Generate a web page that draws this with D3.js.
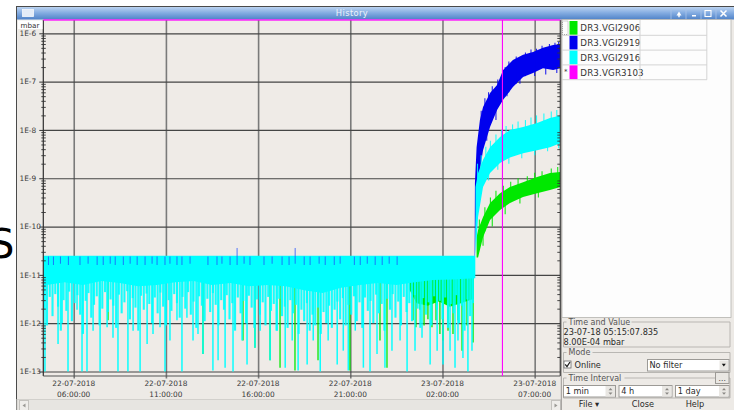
<!DOCTYPE html>
<html><head><meta charset="utf-8">
<script src="https://cdn.jsdelivr.net/npm/d3@7"></script>
<style>
body{margin:0;background:#fff;overflow:hidden}
svg{display:block}
text{font-family:"DejaVu Sans",sans-serif}
</style>
</head><body>
<svg id="c" width="734" height="410"></svg>
<script>
// ================= DATA =================
const seriesNames = ["DR3.VGI2906", "DR3.VGI2919", "DR3.VGI2916", "DR3.VGR3103"];
const yTickValues = [1e-6, 1e-7, 1e-8, 1e-9, 1e-10, 1e-11, 1e-12, 1e-13];
const yTickLabels = ["1E-6", "1E-7", "1E-8", "1E-9", "1E-10", "1E-11", "1E-12", "1E-13"];
// hours counted from 22-07-2018 00:00:00
const timeDomainHours = [4.35, 32.39];
const xTickHours = [6, 11, 16, 21, 26, 31];
const xTickDates = ["22-07-2018", "22-07-2018", "22-07-2018", "22-07-2018", "23-07-2018", "23-07-2018"];
const xTickTimes = ["06:00:00", "11:00:00", "16:00:00", "21:00:00", "02:00:00", "07:00:00"];
const cursorHour = 29.252;          // 23-07-18 05:15:07.835
const cursorValue = 8.00e-4;        // DR3.VGR3103 (off scale, above top)
const baselineTop = 2.45e-11;

// DR3.VGI2916 (cyan) - dense part of the noise before the rise: [hour, low, high]
const cyanDense = [
  [4.35, 6.0e-12, 2.5e-11], [5.5, 7.0e-12, 2.5e-11], [6.5, 6.2e-12, 2.5e-11], [7.5, 7.5e-12, 2.5e-11],
  [8.5, 6.8e-12, 2.5e-11], [9.5, 5.8e-12, 2.5e-11], [10.5, 6.2e-12, 2.5e-11], [11.5, 7.0e-12, 2.5e-11],
  [12.5, 7.5e-12, 2.5e-11], [13.5, 6.2e-12, 2.5e-11], [14.5, 6.8e-12, 2.5e-11], [15.5, 5.8e-12, 2.5e-11],
  [16.5, 6.2e-12, 2.5e-11], [17.5, 5.8e-12, 2.5e-11], [18.5, 4.8e-12, 2.5e-11], [19.5, 4.2e-12, 2.5e-11],
  [20.5, 5.4e-12, 2.5e-11], [21.5, 6.2e-12, 2.5e-11], [22.5, 6.8e-12, 2.5e-11], [23.5, 6.2e-12, 2.5e-11],
  [24.5, 7.0e-12, 2.5e-11], [25.5, 7.8e-12, 2.5e-11], [26.5, 8.0e-12, 2.5e-11], [27.78, 8.5e-12, 2.5e-11]
];
// cyan: lowest value reached in each 0.15 h column, starting at 4.40 h (x 1e-12 mbar)
const cyanColumnStart = 4.40, cyanColumnStep = 0.15;
const cyanColumnMin = [
  2.0, 0.9, 3.5, 1.4, 4.0, 2.2, 0.7, 3.0, 1.8, 4.5, 1.1, 2.6, 3.8, 1.5, 0.6, 2.9, 4.2, 1.3, 2.4, 3.6,
  0.9, 2.0, 4.4, 1.7, 3.1, 2.3, 0.8, 3.9, 1.6, 2.7, 4.6, 1.2, 3.3, 2.1, 0.7, 3.7, 1.9, 4.1, 2.5, 1.0,
  3.4, 1.6, 4.3, 2.2, 0.9, 3.0, 1.8, 4.0, 2.6, 1.3, 3.5, 2.0, 4.4, 1.5, 2.8, 0.8, 3.6, 2.3, 1.1, 3.2,
  1.7, 4.2, 2.4, 0.9, 3.0, 1.9, 3.8, 1.2, 2.6, 0.7, 3.4, 1.6, 2.9, 1.0, 3.7, 2.1, 0.8, 3.1, 1.5, 2.7,
  0.9, 3.5, 1.8, 2.5, 0.7, 3.2, 1.4, 2.2, 0.8, 3.0, 1.6, 2.4, 0.6, 1.9, 1.1, 2.6, 0.7, 1.5, 0.9, 2.1,
  0.6, 1.7, 1.0, 2.3, 0.8, 1.9, 2.8, 1.2, 3.3, 0.9, 2.4, 1.5, 3.6, 1.1, 2.7, 0.8, 3.4, 1.8, 2.9, 1.0,
  3.9, 1.6, 2.5, 0.7, 3.2, 1.9, 4.0, 1.3, 2.8, 0.9, 3.5, 1.7, 2.6, 1.1, 3.8, 2.0, 0.8, 3.3, 1.5, 2.7,
  0.9, 3.6, 1.9, 2.9, 1.2, 3.4, 0.8, 2.5, 1.6, 3.8, 1.0, 2.3, 0.7, 3.1, 1.4, 2.6
];
// cyan deep downward spikes before the rise: [hour, minimum]
const cyanSpikes = [
  [4.44, 1e-13], [5.15, 3.7e-13], [5.37, 1e-12], [5.69, 1e-13], [6.18, 1.9e-12],
  [6.45, 1e-13], [6.72, 1e-13], [7.05, 7e-13], [7.43, 1e-13], [7.81, 8.2e-13], [8.13, 5e-13], [8.40, 1e-13],
  [8.94, 1e-13], [9.22, 7e-13], [9.60, 1e-13], [9.98, 3.7e-13], [10.30, 6e-13], [10.68, 8.2e-13],
  [10.95, 1e-13], [11.22, 4.4e-13], [11.60, 1.15e-12], [11.87, 1e-13], [12.14, 1.3e-12], [12.47, 4.4e-13],
  [12.74, 6e-13], [13.01, 2.3e-13], [13.55, 1.05e-13], [13.83, 1.7e-13], [14.21, 1.2e-13], [14.64, 1e-13],
  [15.13, 4.4e-13], [15.40, 1.4e-13], [15.83, 3.1e-13], [16.11, 7e-13], [16.65, 1.7e-13], [17.03, 7e-13],
  [17.47, 1.2e-13], [17.85, 4.4e-13], [18.17, 1.05e-13], [18.66, 1.4e-13], [18.99, 4.4e-13], [19.37, 1e-13],
  [19.80, 4.4e-13], [20.29, 1.4e-13], [20.62, 2.7e-13], [20.89, 1.05e-13], [21.27, 7e-13], [21.71, 1.2e-13],
  [22.07, 1e-13], [22.45, 2.3e-13], [22.88, 1.2e-13], [23.26, 2.7e-13], [23.70, 4.4e-13], [24.08, 1e-13],
  [24.51, 2.7e-13], [24.89, 5e-13], [25.33, 1.4e-13], [25.71, 2.7e-13], [26.03, 1.4e-13], [26.41, 2.7e-13],
  [26.68, 1.2e-13], [26.84, 4.4e-13], [27.11, 1.9e-13], [27.38, 1e-13], [27.60, 2.7e-13]
];
// cyan after the rise: [hour, low, high]
const cyanAfter = [
  [27.79, 2.3e-11, 6.6e-10], [27.93, 1.57e-10, 1.28e-9], [28.2, 6.6e-10, 2.4e-9], [28.58, 1.28e-9, 4.4e-9],
  [29.12, 2.06e-9, 7.1e-9], [29.66, 2.7e-9, 1.0e-8], [30.37, 3.3e-9, 1.15e-8], [31.13, 3.8e-9, 1.39e-8],
  [31.83, 4.4e-9, 1.76e-8], [32.39, 5.3e-9, 2.0e-8]
];
// cyan spikes sticking out of the band after the rise: [hour, low, high]
const cyanAfterSpikes = [
  [27.9, 6e-10, 2.0e-9], [28.1, 9e-10, 3.0e-9], [28.35, 1.2e-9, 4.5e-9], [28.6, 1.6e-9, 6e-9], [28.9, 2e-9, 8e-9],
  [29.2, 3e-9, 1.0e-8], [29.45, 3.5e-9, 1.2e-8], [29.8, 4e-9, 1.3e-8], [30.1, 5e-9, 1.5e-8], [30.5, 5e-9, 1.6e-8],
  [30.8, 6e-9, 1.8e-8], [31.1, 6e-9, 2.0e-8], [31.5, 7e-9, 2.2e-8], [31.9, 8e-9, 2.4e-8], [32.2, 9e-9, 2.6e-8],
  [28.0, 4e-10, 1.2e-9], [28.5, 9e-10, 3e-9], [29.0, 1.5e-9, 5e-9], [29.6, 2.0e-9, 6e-9], [30.3, 2.6e-9, 7e-9],
  [31.0, 3.0e-9, 8e-9], [31.7, 3.6e-9, 9e-9], [32.3, 4.2e-9, 1e-8]
];

// DR3.VGI2919 (blue) after the rise: [hour, low, high]
const blueAfter = [
  [27.745, 2.3e-11, 2.5e-11], [27.76, 2.3e-11, 7.9e-10], [27.85, 5.7e-10, 4.4e-9], [28.03, 1.48e-9, 1.6e-8],
  [28.2, 3.8e-9, 3.0e-8], [28.58, 1.15e-8, 5.8e-8], [28.96, 2.6e-8, 8.5e-8], [29.29, 4.2e-8, 1.74e-7],
  [29.82, 7.7e-8, 2.8e-7], [30.37, 1.24e-7, 3.6e-7], [30.91, 1.5e-7, 4.1e-7], [31.45, 1.9e-7, 5.0e-7],
  [32.0, 1.74e-7, 5.7e-7], [32.39, 1.9e-7, 6.0e-7]
];
// blue spikes sticking out of the band after the rise: [hour, low, high]
const blueAfterSpikes = [
  [28.1, 5e-9, 2.5e-8], [28.3, 8e-9, 4.5e-8], [28.5, 1.2e-8, 6e-8], [28.7, 1.6e-8, 8e-8], [29.0, 3e-8, 1.1e-7],
  [29.4, 5e-8, 2.0e-7], [29.6, 6e-8, 2.6e-7], [30.0, 9e-8, 3.3e-7], [30.5, 1.3e-7, 4.0e-7], [30.8, 1.5e-7, 4.6e-7],
  [31.1, 1.7e-7, 4.8e-7], [31.4, 2e-7, 5.5e-7], [31.8, 2.2e-7, 6.0e-7], [32.1, 2.4e-7, 6.4e-7], [32.3, 2.6e-7, 6.6e-7],
  [28.4, 6e-9, 3e-8], [28.9, 1.6e-8, 6e-8], [29.5, 5e-8, 1.5e-7], [30.2, 9e-8, 2.5e-7], [31.0, 1.3e-7, 3e-7],
  [31.6, 1.4e-7, 3.5e-7], [32.2, 1.5e-7, 3.5e-7]
];
// blue short ticks visible at the top of the band before the rise: [hour, low, high]
const blueTicks = [
  [4.63, 1.6e-11, 2.4e-11], [4.90, 1.6e-11, 2.4e-11], [5.28, 1.7e-11, 2.4e-11], [5.71, 1.6e-11, 2.4e-11],
  [6.34, 1.6e-11, 2.4e-11], [6.78, 1.7e-11, 2.4e-11], [7.27, 1.6e-11, 2.4e-11], [7.60, 1.6e-11, 2.4e-11],
  [7.98, 1.7e-11, 2.4e-11], [8.25, 1.6e-11, 2.4e-11], [8.69, 1.6e-11, 2.4e-11], [9.06, 1.7e-11, 2.4e-11],
  [9.44, 1.6e-11, 2.4e-11], [9.87, 1.6e-11, 2.4e-11], [10.25, 1.7e-11, 2.4e-11], [10.52, 1.6e-11, 2.4e-11],
  [10.95, 1.6e-11, 2.4e-11], [11.22, 1.7e-11, 2.4e-11], [11.60, 1.6e-11, 2.4e-11], [11.87, 1.6e-11, 2.4e-11],
  [12.31, 1.7e-11, 2.4e-11], [13.28, 1.6e-11, 2.4e-11], [13.77, 1.6e-11, 2.4e-11], [14.04, 1.7e-11, 2.4e-11],
  [14.48, 1.6e-11, 2.4e-11], [14.86, 1.6e-11, 3.6e-11], [15.24, 1.7e-11, 2.4e-11], [15.56, 1.6e-11, 2.4e-11],
  [16.32, 1.6e-11, 2.4e-11], [16.76, 1.7e-11, 2.4e-11], [17.30, 1.6e-11, 2.4e-11], [17.68, 1.6e-11, 2.4e-11],
  [18.01, 1.7e-11, 3.6e-11], [18.50, 1.6e-11, 2.4e-11], [18.82, 1.6e-11, 2.4e-11], [19.31, 1.7e-11, 2.4e-11],
  [19.64, 1.6e-11, 2.4e-11], [20.13, 1.6e-11, 2.4e-11], [20.45, 1.7e-11, 2.4e-11], [21.22, 1.6e-11, 2.4e-11],
  [21.54, 1.6e-11, 2.4e-11], [21.92, 1.7e-11, 2.4e-11], [22.35, 1.6e-11, 2.4e-11], [22.73, 1.6e-11, 2.4e-11],
  [23.11, 1.7e-11, 2.4e-11], [23.54, 1.6e-11, 2.4e-11]
];

// DR3.VGI2906 (green) after the rise: [hour, low, high]
const greenAfter = [
  [27.85, 2.3e-11, 6.0e-11], [27.93, 2.3e-11, 8.5e-11], [28.2, 6.0e-11, 1.57e-10], [28.58, 1.36e-10, 3.06e-10],
  [29.12, 2.2e-10, 4.9e-10], [29.66, 3.06e-10, 6.6e-10], [30.37, 4.1e-10, 8.3e-10], [31.13, 4.9e-10, 1.06e-9],
  [31.83, 5.7e-10, 1.28e-9], [32.39, 6.6e-10, 1.34e-9]
];
const greenAfterSpikes = [
  [28.0, 4e-11, 1.4e-10], [28.3, 8e-11, 2.5e-10], [28.6, 1.5e-10, 4e-10], [28.9, 2e-10, 5.5e-10], [29.3, 2.6e-10, 7e-10],
  [29.7, 3.2e-10, 8.5e-10], [30.1, 4e-10, 1e-9], [30.6, 4.5e-10, 1.1e-9], [31.0, 5e-10, 1.3e-9], [31.4, 5.5e-10, 1.4e-9],
  [31.9, 6e-10, 1.6e-9], [32.25, 7e-10, 1.7e-9],
  [28.2, 4e-11, 1.2e-10], [28.7, 1e-10, 2.5e-10], [29.4, 1.8e-10, 4e-10], [30.2, 3e-10, 6e-10], [31.2, 4e-10, 8e-10]
];
// green dense part (visible below the cyan late on the 22nd): [hour, low, high]
const greenDense = [[24.2, 5e-12, 2.4e-11], [24.6, 2.6e-12, 2.4e-11], [25.2, 2.3e-12, 2.4e-11],
  [25.8, 2.8e-12, 2.4e-11], [26.4, 2.2e-12, 2.4e-11], [27.0, 2.6e-12, 2.4e-11], [27.7, 3.2e-12, 2.4e-11]];
// green downward spikes: [hour, minimum]
const greenSpikes = [
  [7.86, 1.15e-12], [13.01, 2.3e-13], [15.18, 4.4e-13], [15.83, 3.1e-13], [16.65, 1.7e-13],
  [17.19, 1.2e-13], [18.00, 1.05e-13], [19.25, 1.7e-13], [20.98, 1.05e-13], [22.61, 4.4e-13], [22.99, 1.2e-13],
  [24.40, 1.15e-12], [24.56, 8.2e-13], [24.78, 1.9e-12], [25.00, 9e-13], [25.21, 1.2e-12], [25.43, 8.2e-13],
  [25.65, 1.15e-12], [25.86, 6e-13], [26.03, 4.4e-13], [26.30, 7e-13], [26.57, 6e-13], [26.84, 1.15e-12],
  [27.06, 2.7e-13], [27.33, 9e-13], [27.66, 4e-13]
];

// ================= DRAWING =================
const COL = {green: "#00e800", blue: "#0000ee", cyan: "#00ffff", magenta: "#ff00ff"};
const svg = d3.select("#c");
const toDate = h => new Date(Date.UTC(2018, 6, 22) + h * 3600e3);
const PL = 43.3, PR = 560.3, PT = 20, PB = 376;
const x = d3.scaleUtc().domain(timeDomainHours.map(toDate)).range([PL, PR]);
const y = d3.scaleLog().domain([1e-13, 1e-6]).range([371.5, 33.3]);
const X = h => x(toDate(h));
const Y = v => Math.max(PT, y(v));

// background glyph outside the window
svg.append("text").attr("x", -11).attr("y", 258).attr("font-size", 40).attr("fill", "#000").text("S");

// window
svg.append("rect").attr("x", 16.5).attr("y", 6.5).attr("width", 730).attr("height", 420)
  .attr("fill", "#edeae6").attr("stroke", "#4a4a4a");
const defs = svg.append("defs");
const g1 = defs.append("linearGradient").attr("id", "tb").attr("x1", 0).attr("y1", 0).attr("x2", 0).attr("y2", 1);
g1.append("stop").attr("offset", "0%").attr("stop-color", "#bcd3f0");
g1.append("stop").attr("offset", "45%").attr("stop-color", "#86aee2");
g1.append("stop").attr("offset", "100%").attr("stop-color", "#4f82c8");
svg.append("rect").attr("x", 17).attr("y", 7).attr("width", 717).attr("height", 12.5).attr("fill", "url(#tb)");
svg.append("rect").attr("x", 22.5).attr("y", 9.5).attr("width", 11).attr("height", 7)
  .attr("fill", "#e4ecf7").attr("stroke", "#f5f8fc").attr("stroke-width", 0.8);
svg.append("text").attr("x", 352).attr("y", 16.3).attr("text-anchor", "middle").attr("font-size", 8.3)
  .attr("fill", "#eef3fb").attr("letter-spacing", 0.4).text("History");
[671, 686, 701, 716].forEach(a => {
  svg.append("line").attr("x1", a).attr("x2", a).attr("y1", 8).attr("y2", 19).attr("stroke", "#a9c4ea").attr("stroke-width", 0.8);
});
svg.append("path").attr("d", "M676.5,15.5 L679,11.5 L681.5,15.5 Z M678.3,15.5 h1.4 v1.8 h-1.4Z").attr("fill", "#fff");
svg.append("rect").attr("x", 692).attr("y", 15).attr("width", 4).attr("height", 1.5).attr("fill", "#fff");
svg.append("rect").attr("x", 705).attr("y", 10.5).attr("width", 6).attr("height", 6).attr("fill", "none").attr("stroke", "#fff").attr("stroke-width", 1.1);
svg.append("path").attr("d", "M720.5,10.5 L726.5,16.5 M726.5,10.5 L720.5,16.5").attr("stroke", "#fff").attr("stroke-width", 1.5);

// plot background
svg.append("rect").attr("x", PL).attr("y", PT).attr("width", PR - PL).attr("height", PB - PT).attr("fill", "#efebe7");

// grid (vertical)
svg.append("g").attr("transform", `translate(0,${PB + 2.5})`)
  .call(d3.axisBottom(x).tickValues(xTickHours.map(toDate)).tickSize(-(PB + 2.5 - PT)).tickFormat(""))
  .call(g => g.select(".domain").remove())
  .call(g => g.selectAll("line").attr("stroke", "#7a7a7a").attr("stroke-width", 1.6));
// grid (horizontal)
svg.append("g").attr("transform", `translate(${PL},0)`)
  .call(d3.axisLeft(y).tickValues(yTickValues).tickSize(-(PR - PL)).tickFormat(""))
  .call(g => g.select(".domain").remove())
  .call(g => g.selectAll("line").attr("stroke", "#454545").attr("stroke-width", 1.2));

// data
svg.append("clipPath").attr("id", "clip").append("rect")
  .attr("x", PL).attr("y", PT).attr("width", PR - PL).attr("height", PB - PT);
const data = svg.append("g").attr("clip-path", "url(#clip)");
const band = d3.area().x(d => X(d[0])).y0(d => Y(d[1])).y1(d => Y(d[2]));
function spikes(arr, top, color, w, op) {
  data.append("g").selectAll("line").data(arr).join("line")
    .attr("x1", d => X(d[0])).attr("x2", d => X(d[0]))
    .attr("y1", Y(top)).attr("y2", d => Y(d[1]))
    .attr("stroke", color).attr("stroke-width", w).attr("opacity", op);
}
function segs(arr, color, w, op) {
  data.append("g").selectAll("line").data(arr).join("line")
    .attr("x1", d => X(d[0])).attr("x2", d => X(d[0]))
    .attr("y1", d => Y(d[2])).attr("y2", d => Y(d[1]))
    .attr("stroke", color).attr("stroke-width", w).attr("opacity", op);
}
// green
data.append("path").datum(greenDense).attr("d", band).attr("fill", COL.green);
spikes(greenSpikes, baselineTop, COL.green, 1.5, 0.85);
data.append("path").datum(greenAfter).attr("d", band).attr("fill", COL.green);
segs(greenAfterSpikes, COL.green, 1.1, 0.9);
// blue after rise
data.append("path").datum(blueAfter).attr("d", band).attr("fill", COL.blue);
segs(blueAfterSpikes, COL.blue, 1.1, 0.85);
// cyan
data.append("path").datum(cyanDense).attr("d", band).attr("fill", COL.cyan);
const cyanColumns = cyanColumnMin.map((v, i) => [cyanColumnStart + i * cyanColumnStep, v * 1e-12]);
spikes(cyanColumns, baselineTop, COL.cyan, 2.1, 0.9);
spikes(cyanSpikes, baselineTop, COL.cyan, 1.5, 0.95);
data.append("path").datum(cyanAfter).attr("d", band).attr("fill", COL.cyan);
segs(cyanAfterSpikes, COL.cyan, 1.1, 0.85);
// blue ticks on top of the band
segs(blueTicks, "#1f4cff", 1, 0.75);

// axes frame
svg.append("g").attr("transform", `translate(${PL},0)`)
  .call(d3.axisLeft(y).tickValues(yTickValues).tickSize(4).tickFormat((d, i) => yTickLabels[i]))
  .call(g => g.select(".domain").remove())
  .call(g => g.selectAll("line").attr("stroke", "#333"))
  .call(g => g.selectAll("text").attr("x", 19.5 - PL).attr("text-anchor", "start")
    .attr("font-family", "DejaVu Sans").attr("font-size", 7.4).attr("fill", "#3a3a3a"));
const minor = [];
for (let e = -13; e < -6; e++) for (let m = 2; m <= 9; m++) minor.push(m * Math.pow(10, e));
minor.push(...[2, 3, 4, 5, 6, 7, 8].map(m => m * 1e-6).filter(v => y(v) > PT));
[[PL, d3.axisLeft, 2], [PL, d3.axisRight, 2.5], [PR, d3.axisLeft, 3]].forEach(([xx, ax, s]) => {
  svg.append("g").attr("transform", `translate(${xx},0)`)
    .call(ax(y).tickValues(minor).tickSize(s).tickFormat(""))
    .call(g => g.select(".domain").remove())
    .call(g => g.selectAll("line").attr("stroke", "#333").attr("stroke-width", 0.9));
});
svg.append("line").attr("x1", PL).attr("x2", PL).attr("y1", PT).attr("y2", PB).attr("stroke", "#2e2e2e").attr("stroke-width", 1.2);
svg.append("line").attr("x1", PR).attr("x2", PR).attr("y1", PT).attr("y2", PB).attr("stroke", "#2e2e2e").attr("stroke-width", 1.2);
svg.append("line").attr("x1", PL).attr("x2", PR).attr("y1", PB).attr("y2", PB).attr("stroke", "#555").attr("stroke-width", 1.2);

// magenta series (off scale, clamped to the top) and cursor
svg.append("path").datum(timeDomainHours)
  .attr("d", d3.line().x(h => X(h)).y(() => Y(cursorValue)))
  .attr("stroke", COL.magenta).attr("stroke-width", 1.6).attr("opacity", 0.85);
svg.append("line").attr("x1", X(cursorHour)).attr("x2", X(cursorHour)).attr("y1", PT).attr("y2", PB)
  .attr("stroke", COL.magenta).attr("stroke-width", 1.1);

// x labels
xTickHours.forEach((h, i) => {
  const t = svg.append("text").attr("text-anchor", "middle").attr("font-size", 7.4).attr("fill", "#3a3a3a");
  t.append("tspan").attr("x", X(h)).attr("y", 386).text(xTickDates[i]);
  t.append("tspan").attr("x", X(h)).attr("y", 396.5).text(xTickTimes[i]);
});

// mbar box
svg.append("rect").attr("x", 18).attr("y", 20.5).attr("width", 24.5).attr("height", 8.5).attr("fill", "#fff");
svg.append("text").attr("x", 20.5).attr("y", 27.6).attr("font-size", 7.2).attr("fill", "#333").text("mbar");

// scrollbar
svg.append("rect").attr("x", 17).attr("y", 399.5).attr("width", 544).attr("height", 11).attr("fill", "#e7e5e1").attr("stroke", "#d2d0cc");
[[19.5, -1], [551.5, 1]].forEach(([bx, dir]) => {
  svg.append("rect").attr("x", bx).attr("y", 400.5).attr("width", 9).attr("height", 10).attr("fill", "#efedea").attr("stroke", "#c4c2be");
  const cx = bx + 4.5;
  svg.append("path").attr("d", `M${cx - 1.5 * dir},403.5 L${cx + 1.5 * dir},405.5 L${cx - 1.5 * dir},407.5 Z`).attr("fill", "#9a9894");
});

// right panel
svg.append("line").attr("x1", 561.3).attr("x2", 561.3).attr("y1", 19.5).attr("y2", 410).attr("stroke", "#9a9894");
svg.append("rect").attr("x", 562).attr("y", 19.5).attr("width", 169).attr("height", 298).attr("fill", "#fdfdfd").attr("stroke", "#b5b3af").attr("stroke-width", 0.8);
const legColors = [COL.green, COL.blue, COL.cyan, COL.magenta];
seriesNames.forEach((n, i) => {
  const ry = 20.5 + i * 14.8;
  svg.append("rect").attr("x", 569.5).attr("y", ry + 0.5).attr("width", 8).attr("height", 13.8).attr("fill", legColors[i]);
  svg.append("text").attr("x", 580.3).attr("y", ry + 10.6).attr("font-size", 8.7).attr("fill", "#333").attr("letter-spacing", 0.15).text(n);
  svg.append("line").attr("x1", 562).attr("x2", 707).attr("y1", ry + 14.8).attr("y2", ry + 14.8).attr("stroke", "#d4d4d4");
});
[640, 706.8].forEach(cx => svg.append("line").attr("x1", cx).attr("x2", cx).attr("y1", 20).attr("y2", 79.7).attr("stroke", "#d4d4d4"));
svg.append("rect").attr("x", 562.5).attr("y", 21).attr("width", 5.5).attr("height", 13.5).attr("fill", "none")
  .attr("stroke", "#888").attr("stroke-dasharray", "1,1").attr("stroke-width", 0.7);
svg.append("text").attr("x", 564).attr("y", 74).attr("font-size", 7).attr("fill", "#333").text("*");

// group boxes
function groupBox(x0, y0, x1, y1, label, lw) {
  svg.append("path").attr("d", `M${x0 + 3},${y0} H${x0} V${y1} H${x1} V${y0} H${x0 + 5 + lw}`)
    .attr("fill", "none").attr("stroke", "#b3b1ad").attr("stroke-width", 0.9);
  svg.append("text").attr("x", x0 + 5).attr("y", y0 + 2.8).attr("font-size", 8).attr("fill", "#555").text(label);
}
groupBox(563.5, 322, 730, 347, "Time and Value", 63);
groupBox(563.5, 352.5, 730, 372.5, "Mode", 24);
groupBox(563.5, 378, 730, 398, "Time Interval", 56);
svg.append("text").attr("x", 563.5).attr("y", 335).attr("font-size", 8.2).attr("fill", "#2a2a2a").text("23-07-18 05:15:07.835");
svg.append("text").attr("x", 563.5).attr("y", 345.4).attr("font-size", 8.2).attr("fill", "#2a2a2a").text("8.00E-04 mbar");
svg.append("rect").attr("x", 564).attr("y", 361).attr("width", 7).attr("height", 7).attr("fill", "#fff").attr("stroke", "#6a6a6a").attr("stroke-width", 0.8);
svg.append("path").attr("d", "M565.2,364.3 L567,366.6 L570,362").attr("fill", "none").attr("stroke", "#222").attr("stroke-width", 1.3);
svg.append("text").attr("x", 574.5).attr("y", 368).attr("font-size", 8.2).attr("fill", "#2a2a2a").text("Online");
svg.append("rect").attr("x", 647.5).attr("y", 359.5).attr("width", 81.5).attr("height", 11.5).attr("fill", "#fff").attr("stroke", "#9c9a96");
svg.append("rect").attr("x", 719.5).attr("y", 360.5).attr("width", 8.5).attr("height", 9.5).attr("fill", "#e9e7e3");
svg.append("path").attr("d", "M721.8,363.8 L725.8,363.8 L723.8,366.6 Z").attr("fill", "#111");
svg.append("text").attr("x", 649.5).attr("y", 368.3).attr("font-size", 8.2).attr("fill", "#2a2a2a").text("No filter");
svg.append("rect").attr("x", 715.5).attr("y", 372.5).attr("width", 13.5).attr("height", 11).attr("fill", "#e9e7e3").attr("stroke", "#9c9a96");
svg.append("text").attr("x", 722.2).attr("y", 380.5).attr("text-anchor", "middle").attr("font-size", 7.5).attr("fill", "#333").text("...");
[[563.5, 605.5, 615.5, "1 min"], [619, 662, 672, "4 h"], [675.5, 719, 729, "1 day"]].forEach(([a, b, c, t]) => {
  svg.append("rect").attr("x", a).attr("y", 385.5).attr("width", c - a).attr("height", 11.5).attr("fill", "#fff").attr("stroke", "#9c9a96");
  svg.append("rect").attr("x", b).attr("y", 386).attr("width", c - b - 0.5).attr("height", 10.5).attr("fill", "#e9e7e3");
  const m = (b + c) / 2;
  svg.append("path").attr("d", `M${m - 2},390.2 L${m + 2},390.2 L${m},388 Z M${m - 2},392.6 L${m + 2},392.6 L${m},394.8 Z`).attr("fill", "#8a8884");
  svg.append("text").attr("x", a + 2.2).attr("y", 394.2).attr("font-size", 8.2).attr("fill", "#2a2a2a").text(t);
});
[[589, "File ▾"], [643, "Close"], [695, "Help"]].forEach(([cx, t]) => {
  svg.append("text").attr("x", cx).attr("y", 407.3).attr("text-anchor", "middle").attr("font-size", 8.2).attr("fill", "#2a2a2a").text(t);
});
</script>
</body></html>
